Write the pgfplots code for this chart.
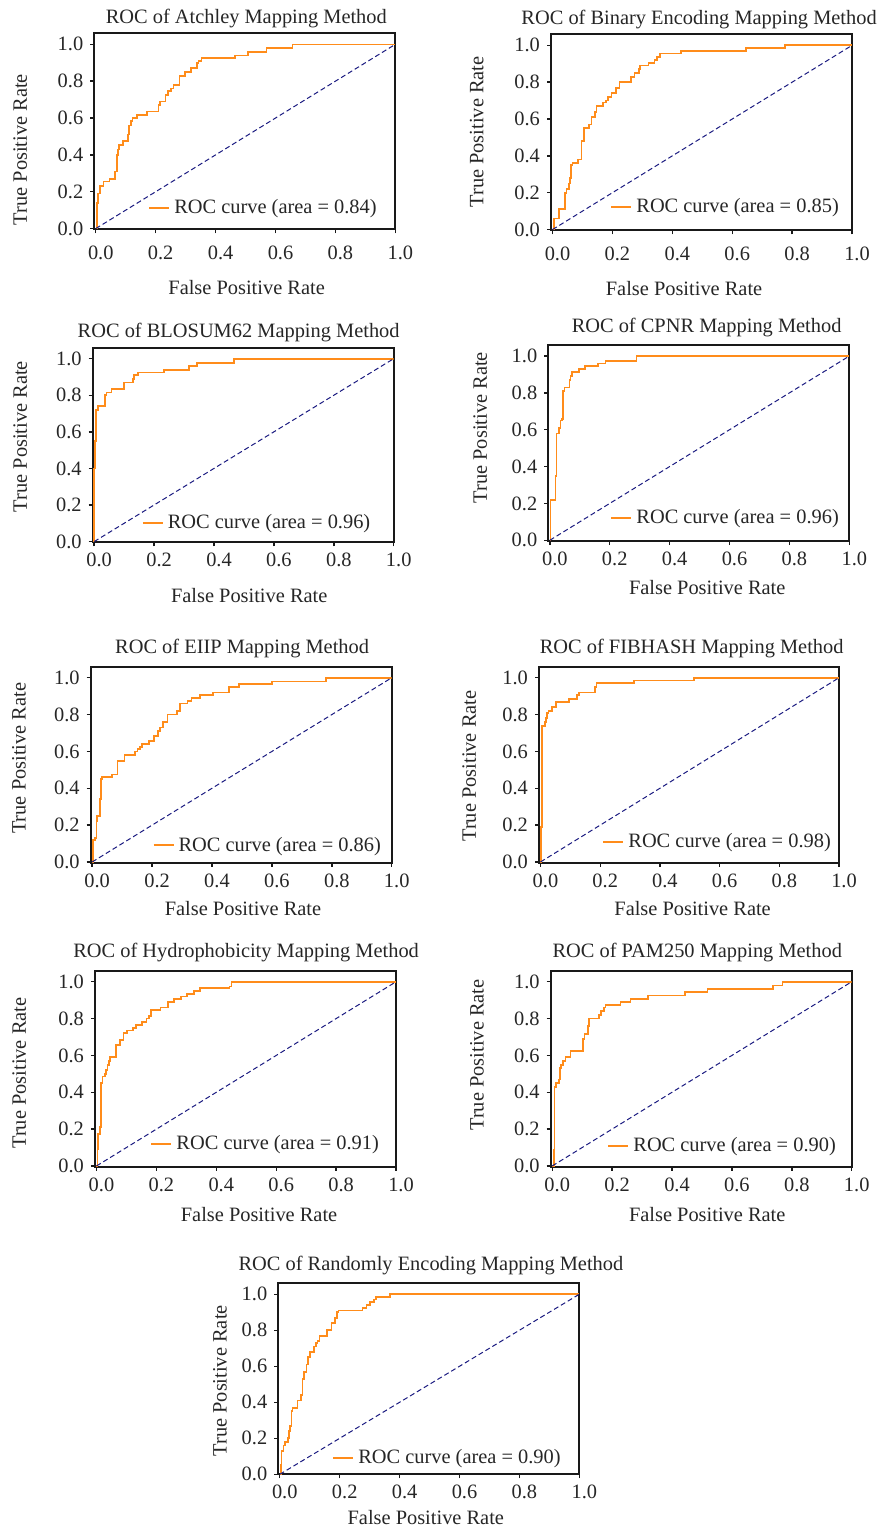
\documentclass[border=0pt]{standalone}
\usepackage{fontspec}
\setmainfont{Liberation Serif}
\usepackage{pgfplots}
\pgfplotsset{compat=1.18}
\definecolor{rocorange}{HTML}{FF8C1A}
\definecolor{rocnavy}{HTML}{1A1A80}
\definecolor{txt}{HTML}{262626}

\pgfplotsset{
  rocax/.style={
    scale only axis, width=150.5pt, height=98pt,
    xmin=-0.005, xmax=1, ymin=-0.004, ymax=1.06,
    xtick={0,0.2,0.4,0.6,0.8,1}, ytick={0,0.2,0.4,0.6,0.8,1},
    tick pos=left, tick align=outside, major tick length=2pt,
    axis line style={line width=1pt, black!90},
    tick style={line width=0.7pt, black!90},
    font=\fontsize{10.2}{12}\selectfont,
    every axis title shift=0pt,
    every axis label/.append style={text=txt},
    every axis title/.append style={text=txt, yshift=-1.5pt},
    xticklabel style={text=txt, xshift=2.5pt, /pgf/number format/fixed, /pgf/number format/fixed zerofill, /pgf/number format/precision=1, /pgf/number format/assume math mode=true},
    yticklabel style={text=txt, /pgf/number format/fixed, /pgf/number format/fixed zerofill, /pgf/number format/precision=1, /pgf/number format/assume math mode=true},
    xlabel={False Positive Rate}, ylabel={True Positive Rate},
    legend style={draw=none, fill=none, inner sep=0pt, text=txt, font=\fontsize{10.2}{12}\selectfont},
    legend cell align=left,
    legend image code/.code={\draw[##1, line width=1pt] (0pt,0pt) -- (10pt,0pt);},
  },
  roc/.style={rocorange, line width=0.85pt, const plot},
  diag/.style={rocnavy, line width=0.5pt, dash pattern=on 2.5pt off 1.5pt, forget plot},
  % #1 #2 title pos, #3 #4 xlabel pos, #5 #6 ylabel pos, #7 #8 legend pos
  place/.style n args={8}{
    title style={at={(axis description cs:#1,#2)}, anchor=center},
    xlabel style={at={(axis description cs:#3,#4)}, anchor=center},
    ylabel style={at={(axis description cs:#5,#6)}, anchor=center},
    legend style={at={(axis description cs:#7,#8)}, anchor=west},
  },
}

\begin{document}
\begin{tikzpicture}
\path[use as bounding box] (0,0) rectangle (440.5pt,-765pt);

%--- Atchley
\begin{axis}[rocax, at={(47.15pt,-16.65pt)}, anchor=north west,
  xticklabel style={yshift=-3pt},
  title={ROC of Atchley Mapping Method},
  place={0.505}{1.093}{0.506}{-0.295}{-0.246}{0.407}{0.178}{0.107}]
\addplot[roc] coordinates {
  (0,0) (0.003,0.14) (0.008,0.19) (0.014,0.23) (0.026,0.255) (0.046,0.27)
  (0.064,0.31) (0.070,0.40) (0.073,0.43) (0.078,0.455) (0.090,0.475)
  (0.107,0.51) (0.111,0.56) (0.118,0.585) (0.123,0.60) (0.137,0.615)
  (0.170,0.635) (0.209,0.67) (0.214,0.69) (0.233,0.725) (0.242,0.745)
  (0.250,0.76) (0.259,0.78) (0.279,0.83) (0.298,0.85) (0.318,0.87)
  (0.337,0.90) (0.343,0.91) (0.353,0.925) (0.464,0.94) (0.509,0.96)
  (0.570,0.98) (0.657,1.0) (1.0,1.0)};
\addlegendentry{ROC curve (area = 0.84)}
\addplot[diag] coordinates {(0,0) (1,1)};
\end{axis}

%--- Binary Encoding
\begin{axis}[rocax, at={(275.5pt,-17.15pt)}, anchor=north west,
  xticklabel style={yshift=-3pt},
  title={ROC of Binary Encoding Mapping Method},
  place={0.492}{1.092}{0.442}{-0.296}{-0.247}{0.502}{0.196}{0.117}]
\addplot[roc] coordinates {
  (0,0) (0.006,0.06) (0.022,0.11) (0.041,0.20) (0.047,0.22) (0.054,0.25)
  (0.058,0.28) (0.061,0.35) (0.067,0.36) (0.086,0.38) (0.097,0.48)
  (0.104,0.55) (0.122,0.57) (0.130,0.61) (0.141,0.64) (0.147,0.67)
  (0.169,0.69) (0.178,0.70) (0.186,0.72) (0.197,0.74) (0.213,0.77)
  (0.224,0.80) (0.261,0.83) (0.274,0.85) (0.289,0.87) (0.293,0.89)
  (0.321,0.905) (0.341,0.92) (0.350,0.935) (0.360,0.955) (0.428,0.97)
  (0.647,0.985) (0.777,1.0) (1.0,1.0)};
\addlegendentry{ROC curve (area = 0.85)}
\addplot[diag] coordinates {(0,0) (1,1)};
\end{axis}

%--- BLOSUM62
\begin{axis}[rocax, at={(46.35pt,-173.85pt)}, anchor=north west, height=97.3pt,
  title={ROC of BLOSUM62 Mapping Method},
  place={0.485}{1.091}{0.52}{-0.271}{-0.241}{0.543}{0.162}{0.099}]
\addplot[roc] coordinates {
  (0,0) (0,0.40) (0.002,0.55) (0.005,0.72) (0.012,0.74) (0.036,0.80)
  (0.041,0.815) (0.058,0.835) (0.099,0.87) (0.129,0.89) (0.132,0.91)
  (0.146,0.925) (0.232,0.94) (0.316,0.96) (0.343,0.975) (0.466,1.0) (1.0,1.0)};
\addlegendentry{ROC curve (area = 0.96)}
\addplot[diag] coordinates {(0,0) (1,1)};
\end{axis}

%--- CPNR
\begin{axis}[rocax, at={(274.15pt,-172.5pt)}, anchor=north west,
  title={ROC of CPNR Mapping Method},
  place={0.526}{1.102}{0.528}{-0.237}{-0.226}{0.578}{0.205}{0.116}]
\addplot[roc] coordinates {
  (0,0) (0.002,0.22) (0.019,0.35) (0.022,0.58) (0.030,0.61) (0.036,0.65)
  (0.040,0.66) (0.044,0.81) (0.049,0.83) (0.066,0.87) (0.069,0.89)
  (0.074,0.915) (0.097,0.93) (0.117,0.945) (0.160,0.96) (0.186,0.975)
  (0.289,1.0) (1.0,1.0)};
\addlegendentry{ROC curve (area = 0.96)}
\addplot[diag] coordinates {(0,0) (1,1)};
\end{axis}

%--- EIIP
\begin{axis}[rocax, at={(45.35pt,-333.35pt)}, anchor=north west,
  title={ROC of EIIP Mapping Method},
  place={0.503}{1.106}{0.506}{-0.234}{-0.238}{0.533}{0.204}{0.088}]
\addplot[roc] coordinates {
  (0,0) (0.003,0.12) (0.009,0.13) (0.014,0.22) (0.017,0.25) (0.026,0.34)
  (0.030,0.45) (0.033,0.46) (0.067,0.475) (0.084,0.55) (0.108,0.58)
  (0.143,0.60) (0.151,0.615) (0.159,0.625) (0.167,0.64) (0.190,0.655)
  (0.206,0.685) (0.220,0.71) (0.226,0.73) (0.236,0.76) (0.251,0.80)
  (0.284,0.82) (0.292,0.86) (0.318,0.875) (0.332,0.89) (0.359,0.905)
  (0.404,0.92) (0.457,0.95) (0.491,0.965) (0.600,0.98) (0.780,1.0) (1.0,1.0)};
\addlegendentry{ROC curve (area = 0.86)}
\addplot[diag] coordinates {(0,0) (1,1)};
\end{axis}

%--- FIBHASH
\begin{axis}[rocax, at={(269.5pt,-333.35pt)}, anchor=north west, width=150pt,
  title={ROC of FIBHASH Mapping Method},
  place={0.509}{1.106}{0.512}{-0.234}{-0.233}{0.493}{0.21}{0.104}]
\addplot[roc] coordinates {
  (0,0) (0.002,0.19) (0.004,0.74) (0.016,0.76) (0.019,0.78) (0.022,0.81)
  (0.027,0.82) (0.039,0.84) (0.052,0.87) (0.095,0.885) (0.123,0.905)
  (0.130,0.92) (0.183,0.95) (0.188,0.97) (0.314,0.985) (0.515,1.0) (1.0,1.0)};
\addlegendentry{ROC curve (area = 0.98)}
\addplot[diag] coordinates {(0,0) (1,1)};
\end{axis}

%--- Hydrophobicity
\begin{axis}[rocax, at={(47.5pt,-485.35pt)}, anchor=north west,
  title={ROC of Hydrophobicity Mapping Method},
  place={0.502}{1.106}{0.545}{-0.246}{-0.252}{0.478}{0.183}{0.116}]
\addplot[roc] coordinates {
  (0,0) (0.003,0.09) (0.006,0.175) (0.011,0.21) (0.014,0.45) (0.020,0.485)
  (0.028,0.50) (0.031,0.52) (0.037,0.55) (0.042,0.57) (0.046,0.59)
  (0.064,0.655) (0.079,0.685) (0.090,0.72) (0.101,0.735) (0.123,0.75)
  (0.133,0.765) (0.153,0.78) (0.167,0.80) (0.176,0.815) (0.183,0.845)
  (0.214,0.86) (0.239,0.89) (0.259,0.905) (0.281,0.92) (0.303,0.935)
  (0.326,0.95) (0.346,0.965) (0.444,0.975) (0.451,1.0) (1.0,1.0)};
\addlegendentry{ROC curve (area = 0.91)}
\addplot[diag] coordinates {(0,0) (1,1)};
\end{axis}

%--- PAM250
\begin{axis}[rocax, at={(275.35pt,-485.35pt)}, anchor=north west,
  title={ROC of PAM250 Mapping Method},
  place={0.487}{1.106}{0.52}{-0.246}{-0.245}{0.57}{0.187}{0.107}]
\addplot[roc] coordinates {
  (0,0) (0.006,0.09) (0.008,0.43) (0.013,0.45) (0.022,0.47) (0.026,0.53)
  (0.030,0.55) (0.036,0.57) (0.044,0.59) (0.061,0.625) (0.102,0.69)
  (0.108,0.715) (0.119,0.76) (0.122,0.80) (0.156,0.82) (0.163,0.84)
  (0.172,0.86) (0.178,0.875) (0.228,0.89) (0.261,0.905) (0.319,0.925)
  (0.444,0.945) (0.519,0.96) (0.738,0.98) (0.769,1.0) (1.0,1.0)};
\addlegendentry{ROC curve (area = 0.90)}
\addplot[diag] coordinates {(0,0) (1,1)};
\end{axis}

%--- Randomly Encoding
\begin{axis}[rocax, at={(139.15pt,-641.35pt)}, anchor=north west, height=95.8pt,
  ymin=0, ymax=1.064,
  title={ROC of Randomly Encoding Mapping Method},
  place={0.507}{1.103}{0.49}{-0.228}{-0.194}{0.488}{0.178}{0.085}]
\addplot[roc] coordinates {
  (0,0) (0.003,0.05) (0.006,0.13) (0.012,0.16) (0.017,0.18) (0.028,0.20)
  (0.031,0.24) (0.034,0.27) (0.039,0.35) (0.042,0.37) (0.059,0.41)
  (0.070,0.44) (0.076,0.53) (0.081,0.57) (0.089,0.61) (0.094,0.65)
  (0.101,0.68) (0.114,0.71) (0.120,0.73) (0.126,0.74) (0.133,0.77)
  (0.157,0.80) (0.173,0.84) (0.184,0.87) (0.192,0.90) (0.196,0.91)
  (0.276,0.925) (0.289,0.94) (0.301,0.955) (0.314,0.97) (0.322,0.985)
  (0.368,1.0) (1.0,1.0)};
\addlegendentry{ROC curve (area = 0.90)}
\addplot[diag] coordinates {(0,0) (1,1)};
\end{axis}
\end{tikzpicture}
\end{document}
